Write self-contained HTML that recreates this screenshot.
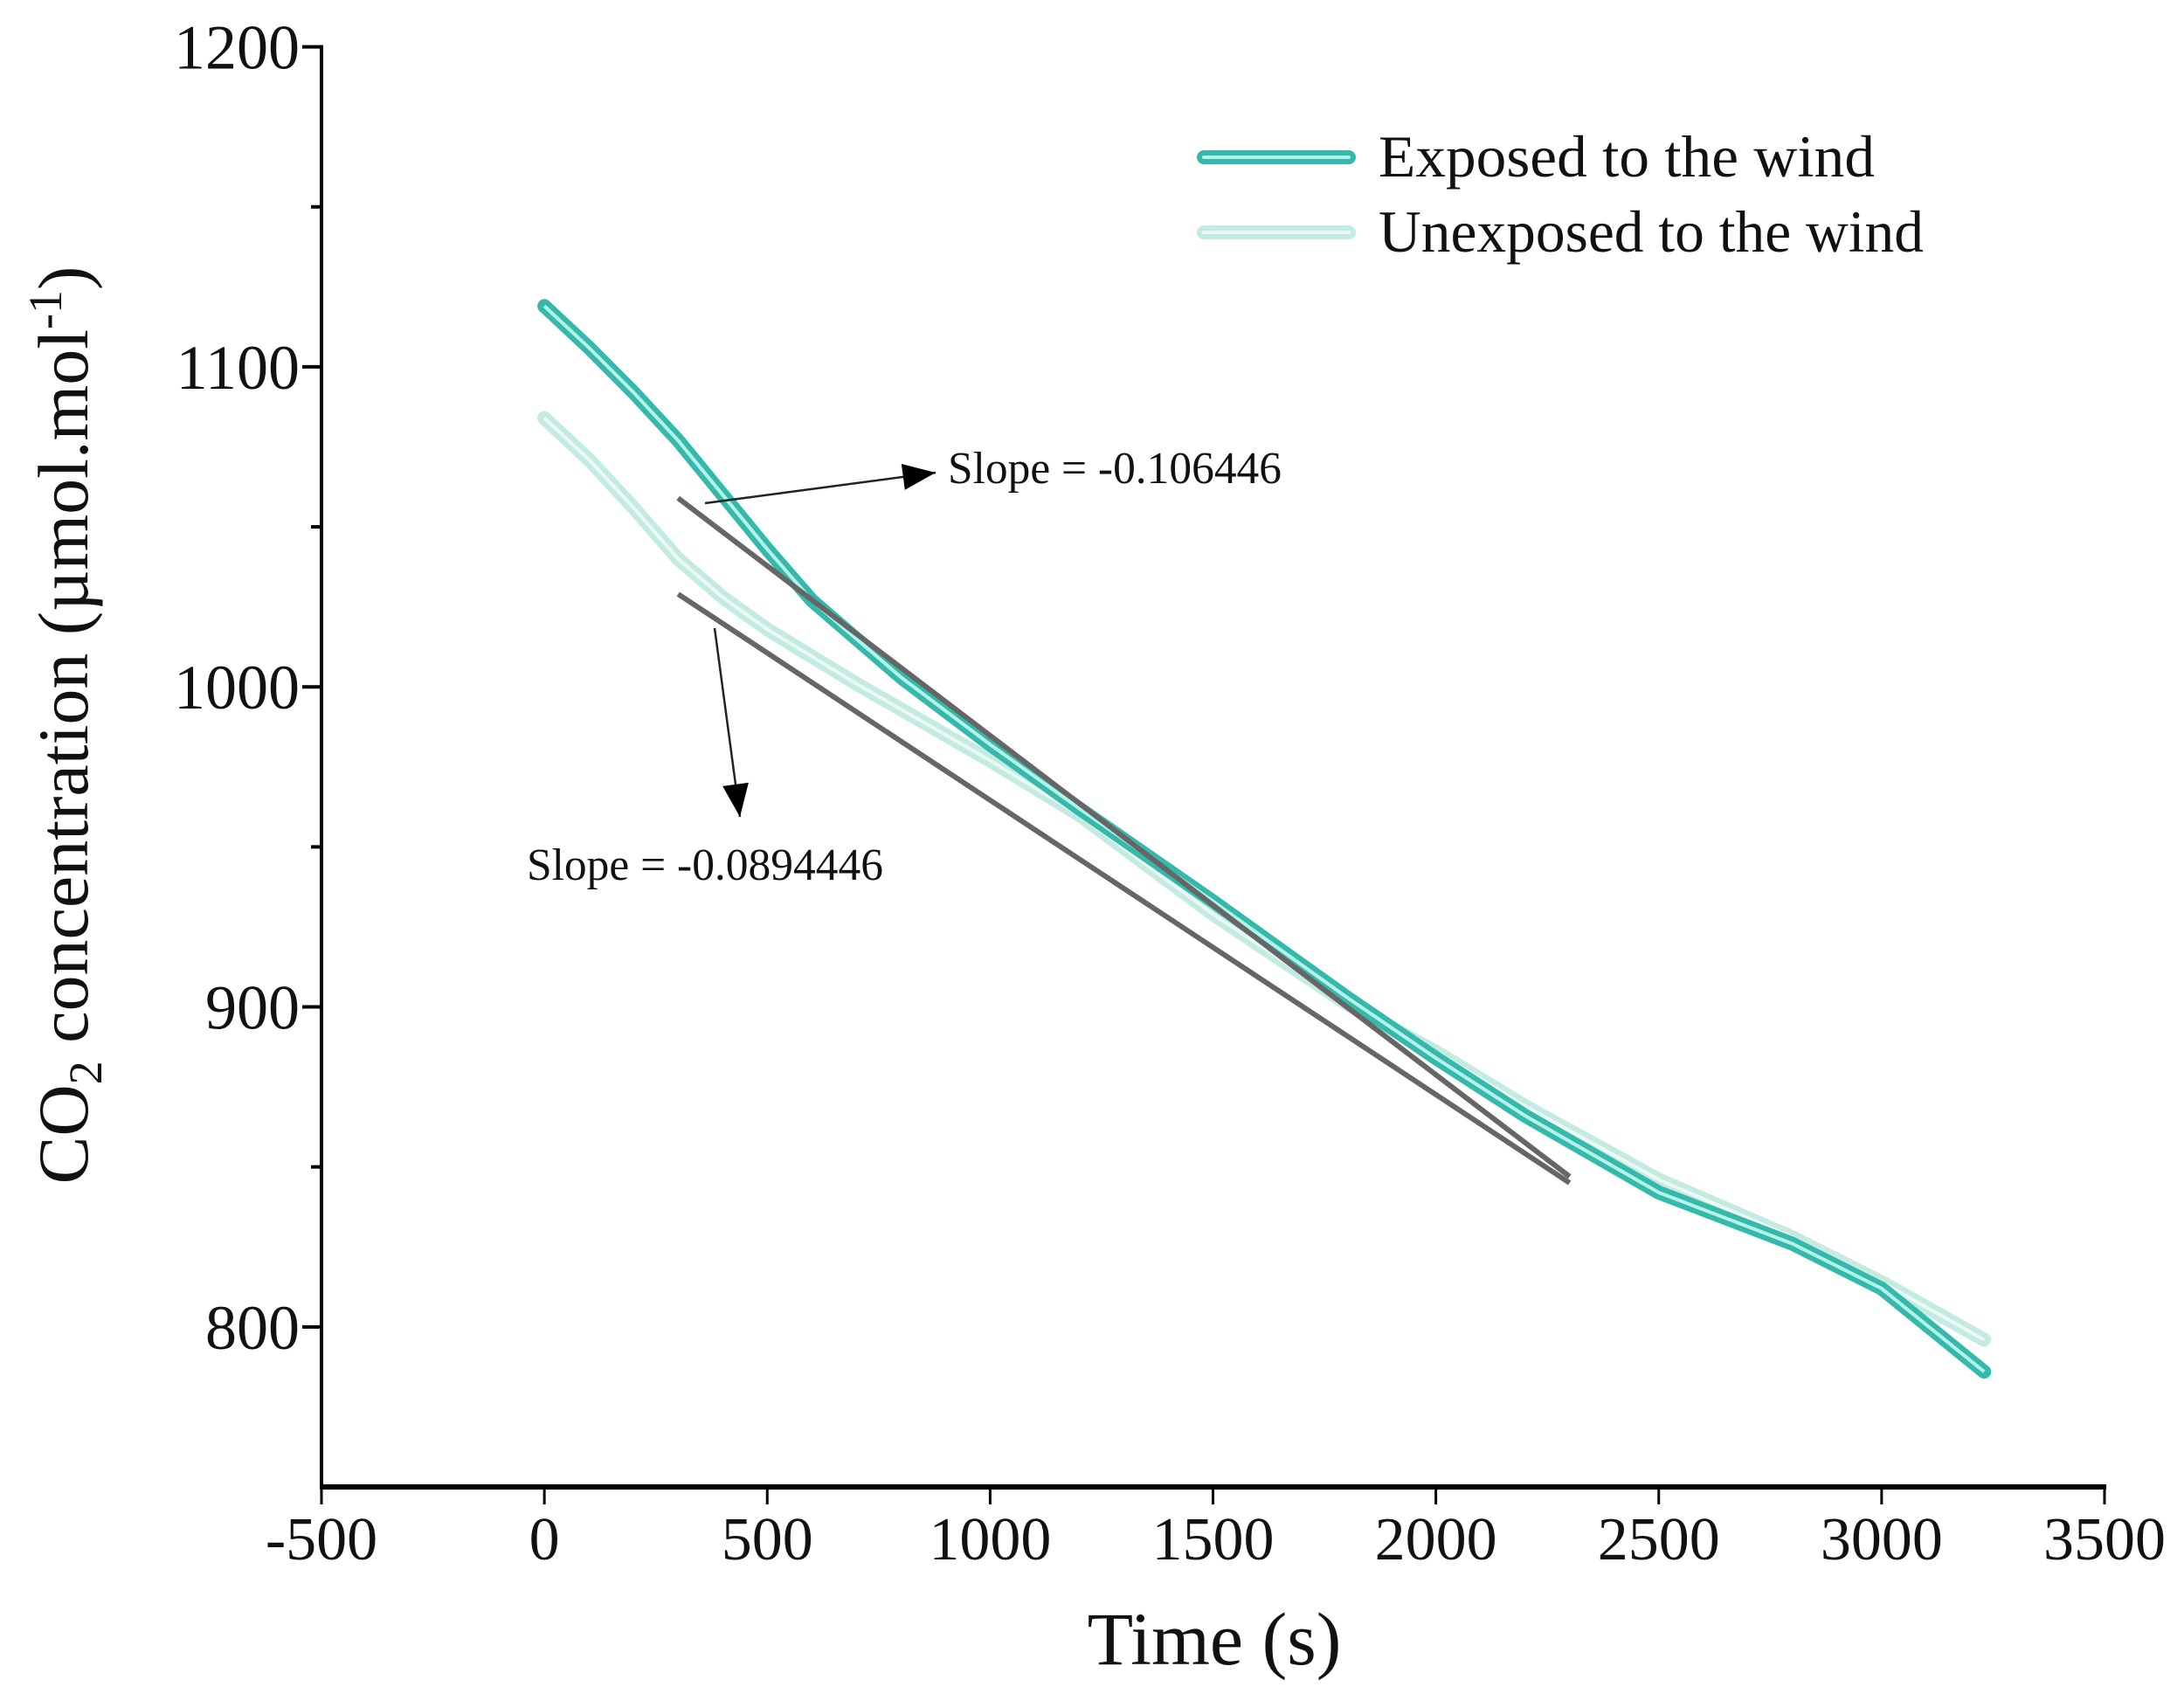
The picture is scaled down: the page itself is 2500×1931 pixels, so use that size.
<!DOCTYPE html>
<html><head><meta charset="utf-8"><style>
html,body{margin:0;padding:0;background:#fff}
svg{display:block;font-family:"Liberation Serif",serif}
</style></head><body>
<svg id="chart" width="2500" height="1931" viewBox="0 0 2500 1931" xmlns="http://www.w3.org/2000/svg">
<g id="axes"></g>
<g id="series"></g>
<g id="annot"></g>
<g>
  <line x1="1378" y1="180" x2="1544" y2="180" stroke="#35b9aa" stroke-width="16" stroke-linecap="round"/>
  <line x1="1378" y1="180" x2="1544" y2="180" stroke="#b5f3ea" stroke-width="4" stroke-linecap="round"/>
  <text x="1578" y="202" font-size="68" textLength="568" lengthAdjust="spacingAndGlyphs" fill="#111">Exposed to the wind</text>
  <line x1="1378" y1="266" x2="1544" y2="266" stroke="#c4ebe1" stroke-width="16" stroke-linecap="round"/>
  <line x1="1378" y1="266" x2="1544" y2="266" stroke="#eaf9f5" stroke-width="4" stroke-linecap="round"/>
  <text x="1578" y="288" font-size="68" textLength="624" lengthAdjust="spacingAndGlyphs" fill="#111">Unexposed to the wind</text>
</g>
</svg>
<script>
const xTicks = [-500,0,500,1000,1500,2000,2500,3000,3500];
const yTicks = [800,900,1000,1100,1200];
const yMinor = [850,950,1050,1150];
const timesExposed = [0,100,200,300,400,500,600,800,1000,1200,1500,1800,2000,2200,2500,2800,3000,3230];
const valuesExposed = [1119,1106,1092,1077,1060,1043,1027,1003,982,962,933,903,884,866,842,826,812,786];
const timesUnexposed = [0,100,200,300,400,500,700,1000,1200,1500,1800,2000,2200,2500,2800,3000,3230];
const valuesUnexposed = [1084,1071,1056,1040,1028,1018,1001,977,960,929,901,886,869,846,828,814,796];
const fitT = [300,2300];
const fitExposed = [1059,847];
const fitUnexposed = [1029,845];

const NS="http://www.w3.org/2000/svg";
const X0=368, X1=2409, Y0=1702, Y1=53.6;
function sx(t){return X0+(t+500)/4000*(X1-X0);}
function sy(v){return Y0-(v-750)/450*(Y0-Y1);}
function mk(tag,attrs,parent){const e=document.createElementNS(NS,tag);for(const k in attrs)e.setAttribute(k,attrs[k]);parent.appendChild(e);return e;}
const axes=document.getElementById('axes'),series=document.getElementById('series'),annot=document.getElementById('annot');

let a=mk('line',{x1:X0,y1:Y1-2,x2:X0,y2:Y0,stroke:'#000','stroke-width':4},axes);


a=mk('line',{x1:X0-2,y1:Y0,x2:X1+2,y2:Y0,stroke:'#000','stroke-width':6},axes);


xTicks.forEach(t=>{
  const l=mk('line',{x1:sx(t),y1:Y0,x2:sx(t),y2:Y0+20,stroke:'#000','stroke-width':3},axes);
  
  
  const tx=mk('text',{x:sx(t),y:1785,'font-size':70,'text-anchor':'middle',fill:'#111'},axes);
  tx.textContent=t;
  
  
});
yTicks.forEach(v=>{
  const l=mk('line',{x1:X0-22,y1:sy(v),x2:X0,y2:sy(v),stroke:'#000','stroke-width':4},axes);
  
  
  const tx=mk('text',{x:343,y:sy(v)+25,'font-size':72,'text-anchor':'end',fill:'#111'},axes);
  tx.textContent=v;
  
  
});
yMinor.forEach(v=>{
  const l=mk('line',{x1:X0-12,y1:sy(v),x2:X0,y2:sy(v),stroke:'#000','stroke-width':4},axes);
  
  
});
let xt=mk('text',{x:1390,y:1905,'font-size':86,'text-anchor':'middle',fill:'#111'},axes);
xt.textContent='Time (s)';


let yt=mk('text',{x:0,y:0,'font-size':82,'text-anchor':'middle',fill:'#111',transform:'translate(100,830) rotate(-90)'},axes);
yt.innerHTML='CO<tspan font-size="54" dy="16">2</tspan><tspan dy="-16"> concentration (µmol.mol</tspan><tspan font-size="54" dy="-30">-1</tspan><tspan dy="30">)</tspan>';



function pts(ts,vs){return ts.map((t,i)=>sx(t).toFixed(1)+','+sy(vs[i]).toFixed(1)).join(' ');}
let p=mk('polyline',{points:pts(timesUnexposed,valuesUnexposed),fill:'none',stroke:'#c4ebe1','stroke-width':16,'stroke-linecap':'round','stroke-linejoin':'round'},series);


p=mk('polyline',{points:pts(timesUnexposed,valuesUnexposed),fill:'none',stroke:'#eaf9f5','stroke-width':4,'stroke-linejoin':'round'},series);


p=mk('polyline',{points:pts(timesExposed,valuesExposed),fill:'none',stroke:'#35b9aa','stroke-width':16,'stroke-linecap':'round','stroke-linejoin':'round'},series);


p=mk('polyline',{points:pts(timesExposed,valuesExposed),fill:'none',stroke:'#b5f3ea','stroke-width':4,'stroke-linejoin':'round'},series);



let f=mk('line',{x1:sx(fitT[0]),y1:sy(fitExposed[0]),x2:sx(fitT[1]),y2:sy(fitExposed[1]),stroke:'#666','stroke-width':6},series);


f=mk('line',{x1:sx(fitT[0]),y1:sy(fitUnexposed[0]),x2:sx(fitT[1]),y2:sy(fitUnexposed[1]),stroke:'#666','stroke-width':6},series);



const defs=mk('defs',{},document.getElementById('chart'));
const mrk=mk('marker',{id:'ah',markerWidth:44,markerHeight:30,refX:10,refY:4,orient:'auto',markerUnits:'userSpaceOnUse',viewBox:'0 0 10 8'},defs);
mk('path',{d:'M0,0 L10,4 L0,8 Z',fill:'#000'},mrk);
let ar=mk('line',{x1:807,y1:576,x2:1071,y2:541,stroke:'#222','stroke-width':2.5,'marker-end':'url(#ah)'},annot);


ar=mk('line',{x1:818,y1:719,x2:847,y2:935,stroke:'#222','stroke-width':2.5,'marker-end':'url(#ah)'},annot);


let s=mk('text',{x:1085,y:553,'font-size':52,textLength:382,lengthAdjust:'spacingAndGlyphs',fill:'#111'},annot);
s.textContent='Slope = -0.106446';


s=mk('text',{x:603,y:1007,'font-size':52,textLength:408,lengthAdjust:'spacingAndGlyphs',fill:'#111'},annot);
s.textContent='Slope = -0.0894446';


</script>
</body></html>
